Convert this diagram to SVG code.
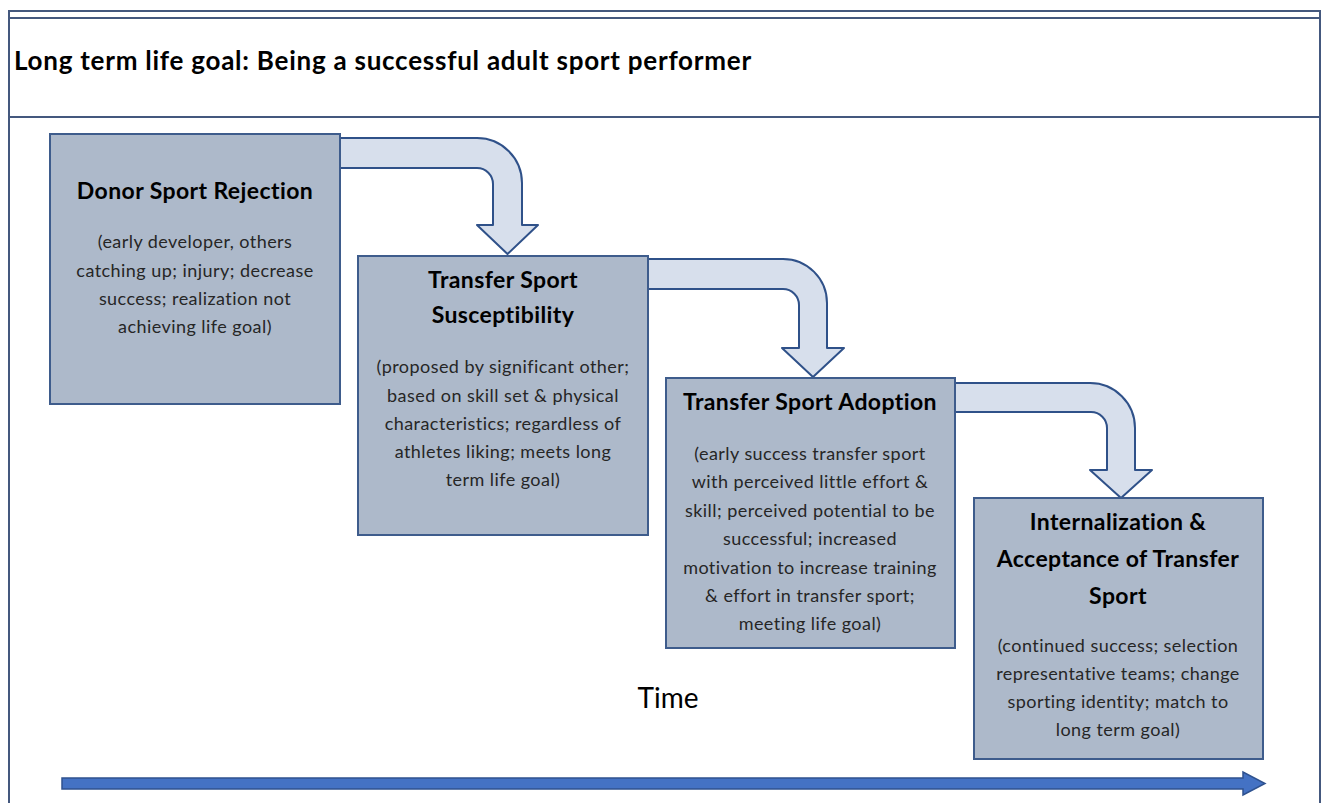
<svg xmlns="http://www.w3.org/2000/svg" width="1322" height="803" viewBox="0 0 1322 803">
<style>
.frame{fill:none;stroke:#44587e;stroke-width:2}
.box{fill:#adb9ca;stroke:#3e5c8c;stroke-width:2}
.bend{fill:#d7dfec;stroke:#2f5189;stroke-width:2;stroke-linejoin:round}
.h{font-family:Lato,"Open Sans",sans-serif;font-weight:700;font-size:23px;letter-spacing:0.4px;fill:#000;text-anchor:middle}
.b{font-family:Lato,"Open Sans",sans-serif;font-size:18px;letter-spacing:0.45px;fill:#262626;text-anchor:middle}
.title{font-family:Lato,"Open Sans",sans-serif;font-weight:700;font-size:26px;letter-spacing:0.75px;fill:#000}
.time{font-family:Lato,"Open Sans",sans-serif;font-size:28px;fill:#000;text-anchor:middle}
</style>
<rect width="1322" height="803" fill="#fff"/>
<g id="frame">
<line class="frame" x1="9" y1="11" x2="1320" y2="11"/>
<line class="frame" x1="9" y1="18" x2="1320" y2="18"/>
<line class="frame" x1="9" y1="117" x2="1320" y2="117"/>
<line class="frame" x1="9" y1="10" x2="9" y2="803"/>
<line class="frame" x1="1320" y1="10" x2="1320" y2="803"/>
<text class="title" x="14" y="70">Long term life goal: Being a successful adult sport performer</text>
</g>
<g id="connectors">
<path class="bend" d="M340,138 H477 A45,45 0 0 1 522,183 V225 H538 L507.5,254 L477,225 H493 V184 A16,16 0 0 0 477,168 H340 Z"/>
<path class="bend" d="M648,259 H783 A44,44 0 0 1 827,303 V348 H844 L813,377 L782,348 H799 V305 A16,16 0 0 0 783,289 H648 Z"/>
<path class="bend" d="M955,383 H1090 A45,45 0 0 1 1135,428 V470 H1152 L1121,498 L1090,470 H1107 V428 A16,16 0 0 0 1091,412 H955 Z"/>
</g>
<g id="node-donor">
<rect class="box" x="50" y="134" width="290" height="270"/>
<text class="h" x="195" y="199">Donor Sport Rejection</text>
<text class="b" x="195" y="248">(early developer, others</text>
<text class="b" x="195" y="277">catching up; injury; decrease</text>
<text class="b" x="195" y="305">success; realization not</text>
<text class="b" x="195" y="333">achieving life goal)</text>
</g>
<g id="node-susceptibility">
<rect class="box" x="358" y="256" width="290" height="279"/>
<text class="h" x="503" y="288">Transfer Sport</text>
<text class="h" x="503" y="323">Susceptibility</text>
<text class="b" x="503" y="373">(proposed by significant other;</text>
<text class="b" x="503" y="402">based on skill set &amp; physical</text>
<text class="b" x="503" y="430">characteristics; regardless of</text>
<text class="b" x="503" y="458">athletes liking; meets long</text>
<text class="b" x="503" y="486">term life goal)</text>
</g>
<g id="node-adoption">
<rect class="box" x="666" y="378" width="289" height="270"/>
<text class="h" x="810" y="410">Transfer Sport Adoption</text>
<text class="b" x="810" y="460">(early success transfer sport</text>
<text class="b" x="810" y="488">with perceived little effort &amp;</text>
<text class="b" x="810" y="517">skill; perceived potential to be</text>
<text class="b" x="810" y="545">successful; increased</text>
<text class="b" x="810" y="574">motivation to increase training</text>
<text class="b" x="810" y="602">&amp; effort in transfer sport;</text>
<text class="b" x="810" y="630">meeting life goal)</text>
</g>
<g id="node-internalization">
<rect class="box" x="974" y="498" width="289" height="261"/>
<text class="h" x="1118" y="530">Internalization &amp;</text>
<text class="h" x="1118" y="567">Acceptance of Transfer</text>
<text class="h" x="1118" y="604">Sport</text>
<text class="b" x="1118" y="652">(continued success; selection</text>
<text class="b" x="1118" y="680">representative teams; change</text>
<text class="b" x="1118" y="708">sporting identity; match to</text>
<text class="b" x="1118" y="736">long term goal)</text>
</g>
<g id="time-axis">
<text class="time" x="668" y="708">Time</text>
<path d="M62,778 H1243 V772 L1265,783.5 L1243,795 V789 H62 Z" fill="#4472c4" stroke="#2f528f" stroke-width="1.5"/>
</g>
</svg>
